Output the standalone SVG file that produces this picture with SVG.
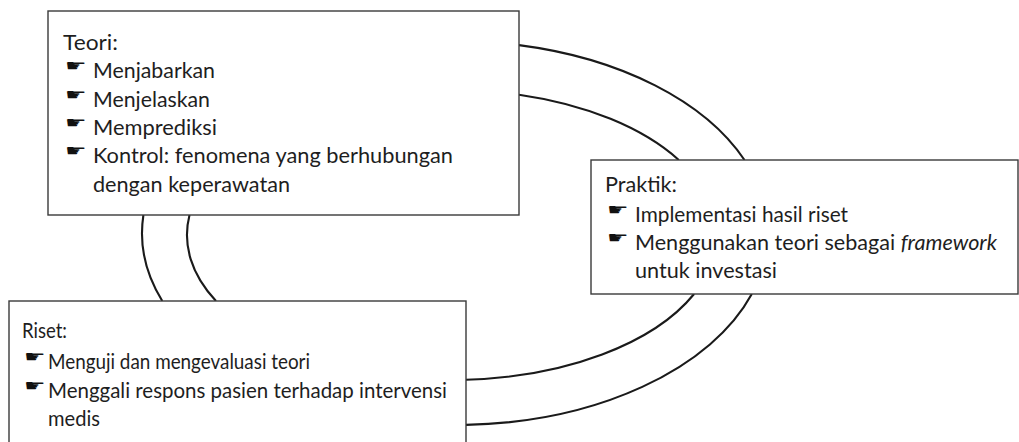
<svg xmlns="http://www.w3.org/2000/svg" width="1019" height="442" viewBox="0 0 1019 442">
  <style>
    .box { fill: #ffffff; stroke: #3a3a3a; stroke-width: 1.4; }
    .link { fill: none; stroke: #1a1a1a; stroke-width: 2.1; }
    .txt { font-family: Lato, "Liberation Sans", sans-serif; font-size: 21.5px; fill: #1e1e1e; }
    .bul { font-family: "DejaVu Sans", sans-serif; font-size: 20px; fill: #111111; }
  </style>
  <defs>
    <!-- widened pointing-hand bullet -->
    <text id="hand" class="bul" transform="scale(1.2,0.8)">☛</text>
  </defs>

  <!-- two concentric loops, split into arcs between the boxes -->
  <g id="connectors">
    <!-- outer loop: rx 313, ry 192, centre (455,233) -->
    <path class="link" d="M519,45.1 A313,192 0 0 1 744.5,160"/>
    <path class="link" d="M751.8,294 A313,192 0 0 1 466,424.9"/>
    <path class="link" d="M162.3,301 A313,192 0 0 1 143.4,215"/>
    <!-- inner loop: rx 265, ry 145, centre (452,235) -->
    <path class="link" d="M519,94.7 A265,145 0 0 1 678.8,160"/>
    <path class="link" d="M694.1,294 A265,145 0 0 1 466,379.8"/>
    <path class="link" d="M216,301 A265,145 0 0 1 189.5,215"/>
  </g>

  <g id="teori">
    <rect class="box" x="48" y="11" width="471" height="204"/>
    <text class="txt" x="63" y="50" textLength="55" lengthAdjust="spacingAndGlyphs">Teori:</text>
    <use href="#hand" x="65" y="71"/>
    <text class="txt" x="93" y="78" textLength="122" lengthAdjust="spacingAndGlyphs">Menjabarkan</text>
    <use href="#hand" x="65" y="100"/>
    <text class="txt" x="93" y="107" textLength="117" lengthAdjust="spacingAndGlyphs">Menjelaskan</text>
    <use href="#hand" x="65" y="128"/>
    <text class="txt" x="93" y="135" textLength="124" lengthAdjust="spacingAndGlyphs">Memprediksi</text>
    <use href="#hand" x="65" y="156"/>
    <text class="txt" x="93" y="163" textLength="360" lengthAdjust="spacingAndGlyphs">Kontrol: fenomena yang berhubungan</text>
    <text class="txt" x="93" y="192" textLength="197" lengthAdjust="spacingAndGlyphs">dengan keperawatan</text>
  </g>

  <g id="praktik">
    <rect class="box" x="591" y="160" width="427" height="134"/>
    <text class="txt" x="605" y="192" textLength="72" lengthAdjust="spacingAndGlyphs">Praktik:</text>
    <use href="#hand" x="607" y="215"/>
    <text class="txt" x="635" y="222" textLength="213" lengthAdjust="spacingAndGlyphs">Implementasi hasil riset</text>
    <use href="#hand" x="607" y="243"/>
    <text class="txt" x="635" y="250" textLength="362" lengthAdjust="spacingAndGlyphs">Menggunakan teori sebagai <tspan font-style="italic">framework</tspan></text>
    <text class="txt" x="635" y="278" textLength="142" lengthAdjust="spacingAndGlyphs">untuk investasi</text>
  </g>

  <g id="riset">
    <rect class="box" x="9" y="301" width="457" height="150"/>
    <text class="txt" x="22" y="338" textLength="45" lengthAdjust="spacingAndGlyphs">Riset:</text>
    <use href="#hand" x="24" y="362"/>
    <text class="txt" x="48" y="369" textLength="262" lengthAdjust="spacingAndGlyphs">Menguji dan mengevaluasi teori</text>
    <use href="#hand" x="24" y="391"/>
    <text class="txt" x="48" y="398" textLength="399" lengthAdjust="spacingAndGlyphs">Menggali respons pasien terhadap intervensi</text>
    <text class="txt" x="48" y="426" textLength="52" lengthAdjust="spacingAndGlyphs">medis</text>
  </g>
</svg>
